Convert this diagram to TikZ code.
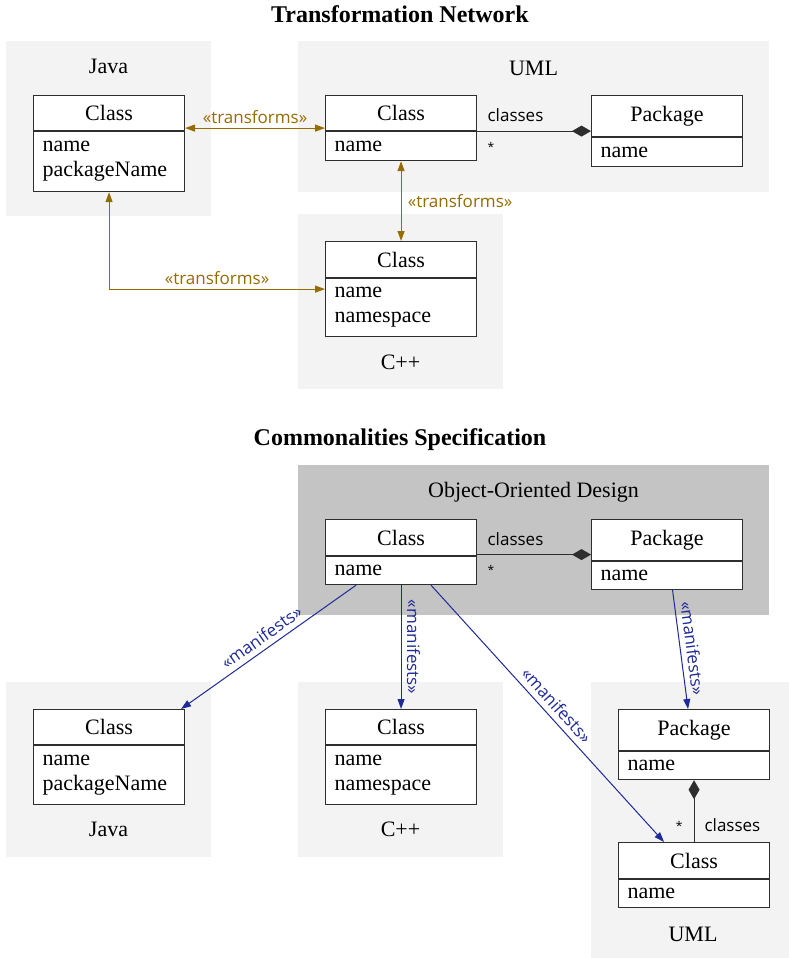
\documentclass[tikz,border=0pt]{standalone}
\usepackage{fontspec}
\setmainfont{Liberation Serif}
\newfontfamily\lblfont{Open Sans}
\usetikzlibrary{arrows.meta,fit,positioning}
\definecolor{panelgray}{HTML}{F3F3F3}
\definecolor{oodgray}{HTML}{C4C4C4}
\definecolor{trcol}{RGB}{150,108,0}
\definecolor{mancol}{RGB}{30,42,152}
\definecolor{boxline}{HTML}{2E2E2E}
\newcommand\umlfont{\fontsize{22pt}{25pt}\selectfont}
\newcommand\smallsans{\lblfont\fontsize{17pt}{19pt}\selectfont}
\newcommand\starsans{\lblfont\fontsize{12pt}{14pt}\selectfont}
\begin{document}
\begin{tikzpicture}[x=1pt,y=-1pt,
  panelbox/.style={fill=panelgray, draw=none, inner sep=0pt, outer sep=0pt, anchor=north west},
  oodbox/.style={fill=oodgray, draw=none, inner sep=0pt, outer sep=0pt, anchor=north west},
  chead/.style={draw=boxline, line width=1.1pt, fill=white, anchor=north west, minimum width=151pt, inner sep=0pt, font=\umlfont},
  cbody/.style={draw=boxline, line width=1.1pt, fill=white, anchor=north, minimum width=151pt, text width=133pt, inner xsep=9pt, inner ysep=0pt, align=left, font=\umlfont},
  wrap/.style={inner sep=0pt, outer sep=0pt},
  plabel/.style={anchor=base, font=\umlfont, inner sep=0pt},
  ttl/.style={anchor=base, font=\fontsize{24pt}{27pt}\selectfont\bfseries, inner sep=0pt},
  trans/.style={draw=trcol, line width=1.1pt, arrows={Triangle[length=10pt,width=7pt]-Triangle[length=10pt,width=7pt]}},
  trlabel/.style={text=trcol, font=\smallsans},
  man/.style={draw=mancol, line width=1pt, arrows={-Triangle[length=10pt,width=7pt]}},
  manlabel/.style={text=mancol, font=\smallsans},
  comp/.style={draw=boxline, line width=1.1pt, arrows={-Diamond[length=19pt,width=11pt]}},
  compl/.style={font=\smallsans, text=black, inner sep=0pt},
  compstar/.style={font=\starsans, text=black, inner sep=0pt}
]
\useasboundingbox (0,0) rectangle (789,958);

% titles
\node[ttl] (t1) at (400,23) {Transformation Network};
\node[ttl] (t2) at (400,445) {Commonalities Specification};

% top panels
\node[panelbox, minimum width=205pt, minimum height=175pt] (pJ1) at (6,41) {};
\node[panelbox, minimum width=471pt, minimum height=151pt] (pU1) at (298,41) {};
\node[panelbox, minimum width=205pt, minimum height=175pt] (pC1) at (298,214) {};
\node[plabel] (lJ1) at (108.5,74) {Java};
\node[plabel] (lU1) at (533.5,75) {UML};
\node[plabel] (lC1) at (400.5,369) {C++};

% bottom panels
\node[oodbox, minimum width=471pt, minimum height=150pt] (pO) at (298,465) {};
\node[panelbox, minimum width=205pt, minimum height=175pt] (pJ2) at (6,682) {};
\node[panelbox, minimum width=205pt, minimum height=175pt] (pC2) at (298,682) {};
\node[panelbox, minimum width=198pt, minimum height=276pt] (pU2) at (591,682) {};
\node[plabel] (lO) at (533.5,497) {Object-Oriented Design};
\node[plabel] (lJ2) at (108.5,836) {Java};
\node[plabel] (lC2) at (400.5,836) {C++};
\node[plabel] (lU2) at (693,941) {UML};

% ---- top classes
\node[chead, minimum height=35pt] (jcH) at (33,95) {Class};
\node[cbody, minimum height=60pt] (jcB) at (jcH.south) {name\\packageName};
\node[wrap, fit=(jcH)(jcB)] (jc) {};

\node[chead, minimum height=35pt] (ucH) at (325,95) {Class};
\node[cbody, minimum height=29pt] (ucB) at (ucH.south) {name};
\node[wrap, fit=(ucH)(ucB)] (uc) {};

\node[chead, minimum height=41pt] (upH) at (591,95) {Package};
\node[cbody, minimum height=29pt] (upB) at (upH.south) {name};
\node[wrap, fit=(upH)(upB)] (up) {};

\node[chead, minimum height=36pt] (ccH) at (325,241) {Class};
\node[cbody, minimum height=58pt] (ccB) at (ccH.south) {name\\namespace};
\node[wrap, fit=(ccH)(ccB)] (cc) {};

% ---- bottom classes
\node[chead, minimum height=36pt] (ocH) at (325,519) {Class};
\node[cbody, minimum height=28pt] (ocB) at (ocH.south) {name};
\node[wrap, fit=(ocH)(ocB)] (oc) {};

\node[chead, minimum height=41pt] (opH) at (591,519) {Package};
\node[cbody, minimum height=28pt] (opB) at (opH.south) {name};
\node[wrap, fit=(opH)(opB)] (op) {};

\node[chead, minimum height=35pt] (jc2H) at (33,709) {Class};
\node[cbody, minimum height=59pt] (jc2B) at (jc2H.south) {name\\packageName};
\node[wrap, fit=(jc2H)(jc2B)] (jc2) {};

\node[chead, minimum height=35pt] (cc2H) at (325,709) {Class};
\node[cbody, minimum height=59pt] (cc2B) at (cc2H.south) {name\\namespace};
\node[wrap, fit=(cc2H)(cc2B)] (cc2) {};

\node[chead, minimum height=41pt] (up2H) at (618,709) {Package};
\node[cbody, minimum height=28pt] (up2B) at (up2H.south) {name};
\node[wrap, fit=(up2H)(up2B)] (up2) {};

\node[chead, minimum height=36pt] (uc2H) at (618,842) {Class};
\node[cbody, minimum height=28pt] (uc2B) at (uc2H.south) {name};
\node[wrap, fit=(uc2H)(uc2B)] (uc2) {};

% ---- transformation connectors
\draw[trans] (jc.east |- uc.west) -- node[above=1pt, trlabel] (tl1) {«transforms»} (uc.west);
\draw[trans] (uc.south) -- node[right=3pt, trlabel] (tl2) {«transforms»} (cc.north);
\draw[trans] (jc.south) |- node[pos=0.75, above=1pt, trlabel] (tl3) {«transforms»} (cc.west);

% ---- compositions
\draw[comp] (uc.east |- up.west) -- node[pos=0, compl, anchor=base west, xshift=10pt, yshift=9.5pt] (c1a) {classes}
  node[pos=0, compstar, anchor=base west, xshift=10pt, yshift=-20pt] (c1b) {*} (up.west);
\draw[comp] (oc.east |- op.west) -- node[pos=0, compl, anchor=base west, xshift=10pt, yshift=9.5pt] (c2a) {classes}
  node[pos=0, compstar, anchor=base west, xshift=10pt, yshift=-20pt] (c2b) {*} (op.west);
\draw[comp] (uc2.north) -- node[pos=0, compl, anchor=base west, xshift=10pt, yshift=10.5pt] (c3a) {classes}
  node[pos=0, compstar, anchor=base east, xshift=-11pt, yshift=12pt] (c3b) {*} (up2.south);

% ---- manifests connectors
\draw[man] ([xshift=-45pt]oc.south) -- node[sloped, above=2pt, manlabel] (m1) {«manifests»} ([xshift=-4pt]jc2.north east);
\draw[man] (oc.south) -- node[sloped, above=2pt, manlabel] (m2) {«manifests»} (cc2.north);
\draw[man] ([xshift=30pt]oc.south) -- node[sloped, above=2pt, manlabel] (m3) {«manifests»} ([xshift=-30pt]uc2.north);
\draw[man] ([xshift=5.5pt]op.south) -- node[sloped, above=2pt, manlabel] (m4) {«manifests»} ([xshift=-6pt]up2.north);
\end{tikzpicture}
\end{document}
